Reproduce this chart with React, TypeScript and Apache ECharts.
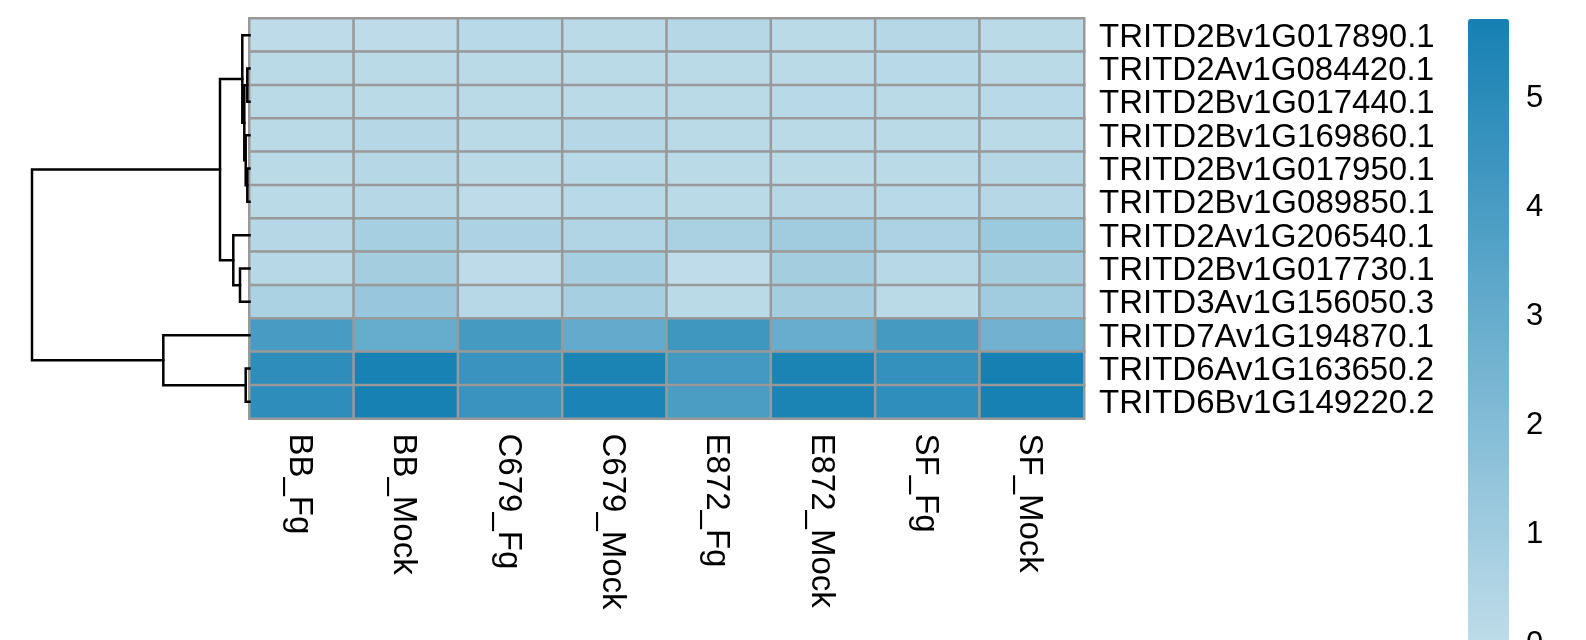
import React, { useEffect, useRef } from "react";
import * as echarts from "echarts";

const rowLabels = [
  "TRITD2Bv1G017890.1",
  "TRITD2Av1G084420.1",
  "TRITD2Bv1G017440.1",
  "TRITD2Bv1G169860.1",
  "TRITD2Bv1G017950.1",
  "TRITD2Bv1G089850.1",
  "TRITD2Av1G206540.1",
  "TRITD2Bv1G017730.1",
  "TRITD3Av1G156050.3",
  "TRITD7Av1G194870.1",
  "TRITD6Av1G163650.2",
  "TRITD6Bv1G149220.2",
];

const colLabels = ["BB_Fg", "BB_Mock", "C679_Fg", "C679_Mock", "E872_Fg", "E872_Mock", "SF_Fg", "SF_Mock"];

// values per gene (row), in column order
const r0 = [0.05, 0.05, 0.2, 0.15, 0.3, 0.1, 0.3, 0.1];
const r1 = [0.1, 0.1, 0.1, 0.15, 0.1, 0.1, 0.2, 0.1];
const r2 = [0.1, 0.1, 0.1, 0.1, 0.1, 0.2, 0.15, 0.2];
const r3 = [0.1, 0.3, 0.1, 0.3, 0.1, 0.15, 0.15, 0.15];
const r4 = [0.15, 0.3, 0.1, 0.2, 0.1, 0.15, 0.1, 0.3];
const r5 = [0.1, 0.3, 0.05, 0.2, 0.1, 0.3, 0.2, 0.3];
const r6 = [0.3, 0.8, 0.6, 0.45, 0.7, 1.0, 0.6, 1.2];
const r7 = [0.25, 0.9, 0.05, 0.8, 0.0, 0.9, 0.25, 0.9];
const r8 = [0.65, 1.3, 0.25, 0.8, 0.1, 0.9, 0.1, 1.0];
const r9 = [4.0, 3.0, 4.1, 3.1, 4.3, 2.9, 4.1, 2.6];
const r10 = [4.9, 5.6, 4.5, 5.5, 4.15, 5.5, 4.7, 5.7];
const r11 = [4.9, 5.65, 4.5, 5.55, 3.9, 5.5, 4.85, 5.65];
const rowValues = [r0, r1, r2, r3, r4, r5, r6, r7, r8, r9, r10, r11];

// hierarchical clustering merges (R hclust style: negative = leaf, positive = earlier merge)
const mergeLeft = [-2, -5, -4, -11, 1, -1, -8, -7, 6, -10, 9];
const mergeRight = [-3, -6, 2, -12, 3, 5, -9, 7, 8, 4, 10];
const mergeHeight = [0.101, 0.101, 0.175, 0.175, 0.239, 0.331, 0.437, 0.745, 1.356, 3.963, 10.0];

const legendTicks = [0, 1, 2, 3, 4, 5];
const colorMin = 0;
const colorMax = 5.71;

export default function App() {
  const ref = useRef<HTMLDivElement>(null);
  useEffect(() => {
    if (!ref.current) return;
    const chart = echarts.init(ref.current, undefined, { renderer: "svg" });

    const heatData: number[][] = [];
    rowValues.forEach((row, ri) => row.forEach((v, ci) => heatData.push([ci, ri, v])));

    // dendrogram segments
    const nodes: { h: number; y: number }[] = [];
    const pos = (k: number) => (k < 0 ? { h: 0, y: -k - 1 + 0.5 } : nodes[k - 1]);
    const segs: number[][][] = [];
    for (let i = 0; i < mergeHeight.length; i++) {
      const a = pos(mergeLeft[i]);
      const b = pos(mergeRight[i]);
      const h = mergeHeight[i];
      segs.push([
        [a.h, a.y],
        [h, a.y],
        [h, b.y],
        [b.h, b.y],
      ]);
      nodes.push({ h, y: (a.y + b.y) / 2 });
    }

    const font = "Liberation Sans";
    chart.setOption({
      animation: false,
      grid: [
        { left: 249.5, top: 18.5, width: 834.5, height: 400, outerBoundsMode: "none", containLabel: false },
        { left: 32, top: 18.5, width: 217.5, height: 400, outerBoundsMode: "none", containLabel: false },
        { left: 1468, top: 19, width: 41, height: 623, outerBoundsMode: "none", containLabel: false },
      ],
      xAxis: [
        {
          type: "category",
          gridIndex: 0,
          data: colLabels,
          axisLine: { show: false },
          axisTick: { show: false },
          splitLine: { show: false },
          axisLabel: { interval: 0, rotate: -90, margin: 15, color: "#000", fontSize: 33, fontFamily: font },
        },
        { type: "value", gridIndex: 1, min: 0, max: mergeHeight[mergeHeight.length - 1], inverse: true, show: false },
        { type: "value", gridIndex: 2, min: 0, max: 1, show: false },
      ],
      yAxis: [
        {
          type: "category",
          gridIndex: 0,
          data: rowLabels,
          inverse: true,
          position: "right",
          axisLine: { show: false },
          axisTick: { show: false },
          splitLine: { show: false },
          axisLabel: { interval: 0, margin: 15, color: "#000", fontSize: 33, fontFamily: font },
        },
        { type: "value", gridIndex: 1, min: 0, max: rowLabels.length, inverse: true, show: false },
        {
          type: "value",
          gridIndex: 2,
          min: colorMin,
          max: colorMax,
          interval: 1,
          position: "right",
          axisLine: { show: false },
          axisTick: { show: false },
          splitLine: { show: false },
          axisLabel: {
            margin: 17,
            color: "#000",
            fontSize: 31,
            fontFamily: font,
            showMaxLabel: false,
            hideOverlap: false,
            formatter: (v: number) => (legendTicks.includes(v) ? String(v) : ""),
          },
        },
      ],
      visualMap: {
        type: "continuous",
        min: colorMin,
        max: colorMax,
        seriesIndex: 0,
        calculable: false,
        hoverLink: false,
        left: 1468,
        top: 19,
        itemWidth: 41,
        itemHeight: 623,
        padding: 0,
        text: ["", ""],
        inRange: { color: ["#BEDCE9", "#1680B3"] },
      },
      series: [
        {
          type: "heatmap",
          xAxisIndex: 0,
          yAxisIndex: 0,
          data: heatData,
          itemStyle: { borderColor: "#999999", borderWidth: 2.5 },
          emphasis: { disabled: true },
          label: { show: false },
        },
        {
          type: "lines",
          coordinateSystem: "cartesian2d",
          xAxisIndex: 1,
          yAxisIndex: 1,
          polyline: true,
          silent: true,
          lineStyle: { color: "#000", width: 2.5, opacity: 1, cap: "square", join: "miter" },
          data: segs.map((c) => ({ coords: c })),
        },
        {
          type: "scatter",
          xAxisIndex: 2,
          yAxisIndex: 2,
          data: [],
        },
      ],
    });
    return () => chart.dispose();
  }, []);
  return <div ref={ref} style={{ position: "fixed", left: 0, top: 0, width: 1586, height: 640 }} />;
}
